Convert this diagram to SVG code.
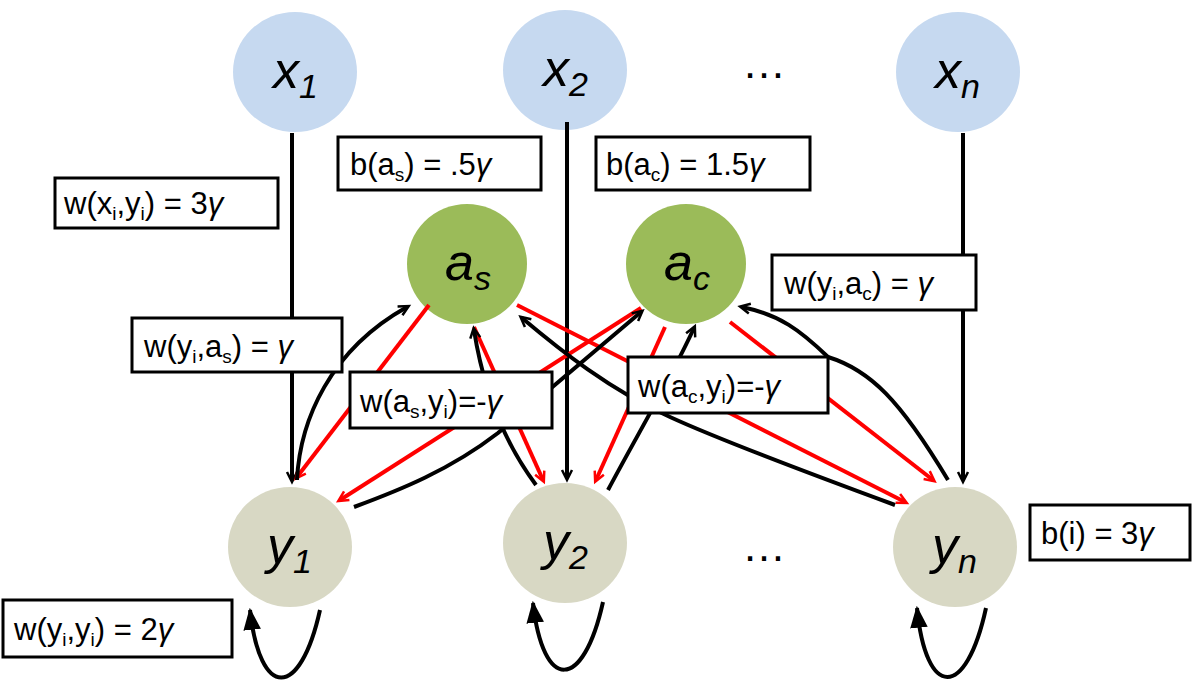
<svg xmlns="http://www.w3.org/2000/svg" width="1200" height="680" viewBox="0 0 1200 680">
<defs>
<marker id="ab" viewBox="0 0 10 10" refX="8" refY="5" markerWidth="5" markerHeight="5" orient="auto" markerUnits="userSpaceOnUse" style="overflow:visible"><path d="M0,0 L10,5 L0,10" fill="none" stroke="#000" stroke-width="2.5" transform="scale(2)" transform-origin="8 5"/></marker>
<marker id="ar" viewBox="0 0 10 10" refX="8" refY="5" markerWidth="5" markerHeight="5" orient="auto" markerUnits="userSpaceOnUse" style="overflow:visible"><path d="M0,0 L10,5 L0,10" fill="none" stroke="#f00" stroke-width="2.5" transform="scale(2)" transform-origin="8 5"/></marker>
<marker id="at" viewBox="0 0 10 10" refX="9" refY="5" markerWidth="22" markerHeight="22" orient="auto" markerUnits="userSpaceOnUse"><path d="M0,1 L10,5 L0,9 Z" fill="#000"/></marker>
</defs>
<style>
.nx{fill:#c6d9f0}.na{fill:#9bbb59}.ny{fill:#d8d8c4}
.nt{font-family:"Liberation Sans",Arial,sans-serif;font-style:italic;font-size:52px;fill:#000}
.sb{font-size:34px}
.bx{fill:#fff;stroke:#000;stroke-width:3}
.lt{font-family:"Liberation Sans",Arial,sans-serif;font-size:31px;fill:#000}
.s{font-size:19px}
.bl{fill:none;stroke:#000;stroke-width:4}
.rd{fill:none;stroke:#f00;stroke-width:4}
.dots{font-family:"Liberation Sans",Arial,sans-serif;font-size:44px;fill:#000}
</style>
<g id="nodes">
<g id="x1"><ellipse class="nx" cx="295" cy="72" rx="62" ry="60"/><text class="nt" x="273" y="88">x<tspan class="sb" dy="10">1</tspan></text></g>
<g id="x2"><ellipse class="nx" cx="565" cy="70" rx="62" ry="60"/><text class="nt" x="543" y="86">x<tspan class="sb" dy="10">2</tspan></text></g>
<g id="xn"><ellipse class="nx" cx="958" cy="72" rx="62" ry="60"/><text class="nt" x="935" y="88">x<tspan class="sb" dy="10">n</tspan></text></g>
<g id="as"><ellipse class="na" cx="467" cy="264" rx="60" ry="60"/><text class="nt" x="445" y="280">a<tspan class="sb" dy="10">s</tspan></text></g>
<g id="ac"><ellipse class="na" cx="686" cy="264" rx="60" ry="60"/><text class="nt" x="664" y="280">a<tspan class="sb" dy="10">c</tspan></text></g>
<g id="y1"><ellipse class="ny" cx="290" cy="547" rx="62" ry="60"/><text class="nt" x="267" y="563">y<tspan class="sb" dy="10">1</tspan></text></g>
<g id="y2"><ellipse class="ny" cx="565" cy="543" rx="62" ry="60"/><text class="nt" x="543" y="559">y<tspan class="sb" dy="10">2</tspan></text></g>
<g id="yn"><ellipse class="ny" cx="955" cy="547" rx="62" ry="60"/><text class="nt" x="932" y="563">y<tspan class="sb" dy="10">n</tspan></text></g>
<text class="dots" x="742" y="78">…</text>
<text class="dots" x="742" y="561">…</text>
</g>
<g id="connectors">
<line class="bl" x1="292" y1="133" x2="292" y2="480" marker-end="url(#ab)"/>
<line class="bl" x1="567" y1="122" x2="567" y2="478" marker-end="url(#ab)"/>
<line class="bl" x1="963" y1="133" x2="963" y2="480" marker-end="url(#ab)"/>
<line class="rd" x1="429" y1="305" x2="297" y2="477" marker-end="url(#ar)"/>
<line class="rd" x1="641" y1="308" x2="340" y2="500" marker-end="url(#ar)"/>
<line class="rd" x1="474" y1="327" x2="543" y2="480" marker-end="url(#ar)"/>
<line class="rd" x1="517" y1="305" x2="905" y2="502" marker-end="url(#ar)"/>
<line class="rd" x1="665" y1="327" x2="596" y2="480" marker-end="url(#ar)"/>
<line class="rd" x1="730" y1="322" x2="933" y2="480" marker-end="url(#ar)"/>
<path class="bl" d="M297,480 C300,420 330,350 407,307" marker-end="url(#ab)"/>
<path class="bl" d="M354,507 C400,490 450,470 498,433 L641,312" marker-end="url(#ab)"/>
<path class="bl" d="M536,485 C510,450 485,400 474,330" marker-end="url(#ab)"/>
<path class="bl" d="M608,490 C640,430 670,380 694,328" marker-end="url(#ab)"/>
<path class="bl" d="M895,505 C800,470 720,440 670,417 C610,390 560,350 522,318" marker-end="url(#ab)"/>
<path class="bl" d="M948,480 C900,400 870,370 828,357 M828,357 C800,330 780,315 742,307" marker-end="url(#ab)"/>
<path class="bl" d="M320,610 C300,700 260,700 250,610" marker-end="url(#at)"/>
<path class="bl" d="M603,602 C583,692 543,692 533,603" marker-end="url(#at)"/>
<path class="bl" d="M986,608 C966,700 926,700 917,608" marker-end="url(#at)"/>
</g>
<g id="labels">
<g id="l1"><rect class="bx" x="55" y="178" width="223" height="50"/><text class="lt" x="64" y="214">w(x<tspan class="s" dy="6">i</tspan><tspan dy="-6">,y</tspan><tspan class="s" dy="6">i</tspan><tspan dy="-6">) = 3</tspan><tspan font-style="italic">γ</tspan></text></g>
<g id="l2"><rect class="bx" x="338" y="137" width="203" height="53"/><text class="lt" x="350" y="175">b(a<tspan class="s" dy="6">s</tspan><tspan dy="-6">) = .5</tspan><tspan font-style="italic">γ</tspan></text></g>
<g id="l3"><rect class="bx" x="596" y="137" width="214" height="53"/><text class="lt" x="606" y="175">b(a<tspan class="s" dy="6">c</tspan><tspan dy="-6">) = 1.5</tspan><tspan font-style="italic">γ</tspan></text></g>
<g id="l4"><rect class="bx" x="772" y="255" width="204" height="55"/><text class="lt" x="784" y="294">w(y<tspan class="s" dy="6">i</tspan><tspan dy="-6">,a</tspan><tspan class="s" dy="6">c</tspan><tspan dy="-6">) = </tspan><tspan font-style="italic">γ</tspan></text></g>
<g id="l5"><rect class="bx" x="132" y="318" width="210" height="54"/><text class="lt" x="144" y="357">w(y<tspan class="s" dy="6">i</tspan><tspan dy="-6">,a</tspan><tspan class="s" dy="6">s</tspan><tspan dy="-6">) = </tspan><tspan font-style="italic">γ</tspan></text></g>
<g id="l6"><rect class="bx" x="350" y="372" width="202" height="56"/><text class="lt" x="360" y="412">w(a<tspan class="s" dy="6">s</tspan><tspan dy="-6">,y</tspan><tspan class="s" dy="6">i</tspan><tspan dy="-6">)=-</tspan><tspan font-style="italic">γ</tspan></text></g>
<g id="l7"><rect class="bx" x="628" y="357" width="200" height="56"/><text class="lt" x="638" y="397">w(a<tspan class="s" dy="6">c</tspan><tspan dy="-6">,y</tspan><tspan class="s" dy="6">i</tspan><tspan dy="-6">)=-</tspan><tspan font-style="italic">γ</tspan></text></g>
<g id="l8"><rect class="bx" x="1030" y="505" width="160" height="55"/><text class="lt" x="1041" y="544">b(i) = 3<tspan font-style="italic">γ</tspan></text></g>
<g id="l9"><rect class="bx" x="3" y="600" width="229" height="57"/><text class="lt" x="14" y="640">w(y<tspan class="s" dy="6">i</tspan><tspan dy="-6">,y</tspan><tspan class="s" dy="6">i</tspan><tspan dy="-6">) = 2</tspan><tspan font-style="italic">γ</tspan></text></g>
</g>
</svg>
